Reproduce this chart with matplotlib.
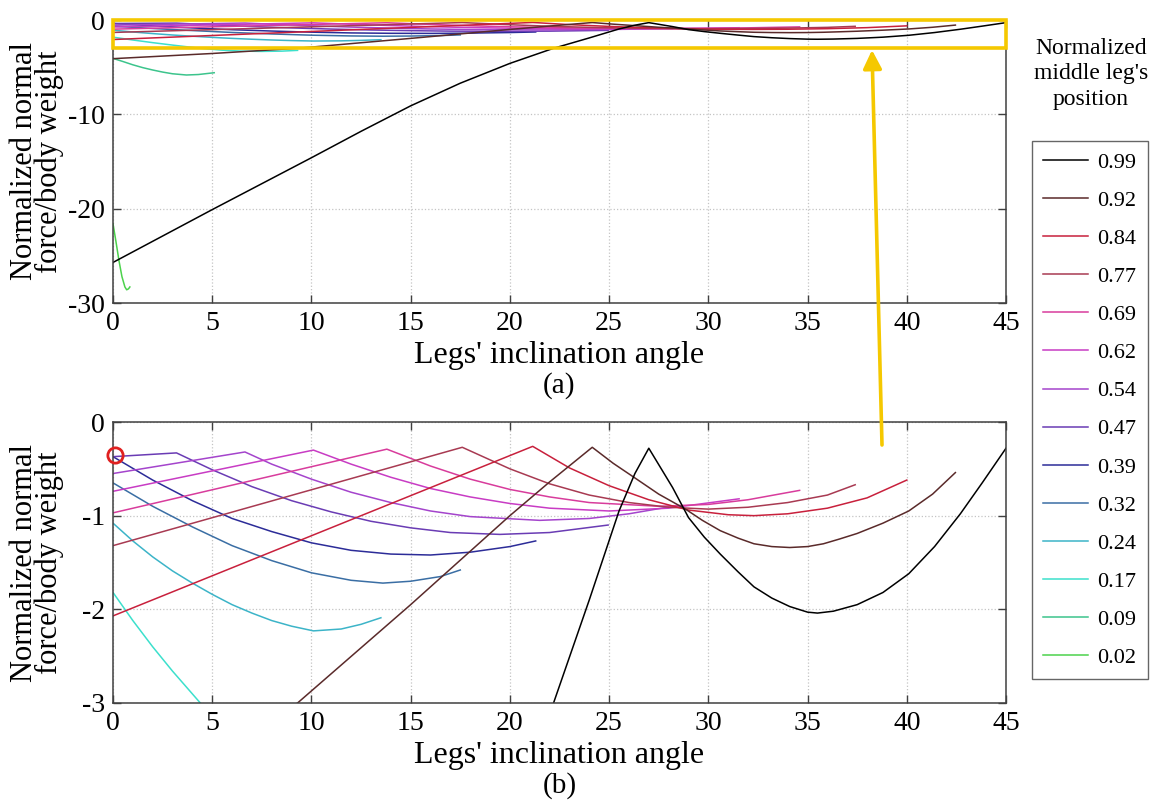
import matplotlib
matplotlib.use("Agg")
import matplotlib.pyplot as plt
from matplotlib.patches import Rectangle, FancyArrowPatch

plt.rcParams["font.family"] = ["Liberation Serif", "DejaVu Serif"]
plt.rcParams["axes.unicode_minus"] = False

# middle leg positions (legend order) and their line colours
positions = ["0.99", "0.92", "0.84", "0.77", "0.69", "0.62", "0.54",
             "0.47", "0.39", "0.32", "0.24", "0.17", "0.09", "0.02"]
colors = ["#000000", "#5a2a2a", "#c8203c", "#a83a52", "#d83c9c", "#c83cc4", "#a444cc",
          "#6a3cb4", "#2c2c98", "#3a6ea4", "#3cb4c8", "#3ce0cc", "#3cc48c", "#4cd24c"]

# normalized normal force vs legs' inclination angle
x_099 = [0, 2.5, 5, 7.5, 10, 12.5, 15, 17.5, 20, 22.2, 24.0, 25.5, 26.3, 27.0,
         27.6, 28.2, 29.0, 29.8, 30.6, 31.5, 32.3, 33.2, 34.1, 35.0, 35.5, 36.3,
         37.5, 38.8, 40.1, 41.4, 42.7, 43.8, 45.0]
y_099 = [-25.7, -22.9, -20.1, -17.35, -14.6, -11.8, -9.1, -6.7, -4.6, -3.0, -1.9, -0.95, -0.55, -0.28,
         -0.49, -0.70, -1.02, -1.23, -1.41, -1.60, -1.76, -1.88, -1.97, -2.03, -2.04, -2.02,
         -1.95, -1.82, -1.62, -1.33, -0.98, -0.65, -0.28]

x_092 = [0, 5, 9.3, 15, 20, 22.0, 24.15, 25.2, 26.25, 27.5, 28.85, 29.7, 30.6, 31.5,
         32.3, 33.2, 34.1, 35.0, 35.8, 36.6, 37.5, 38.8, 40.1, 41.3, 42.45]
y_092 = [-4.1, -3.55, -3.0, -1.95, -1.0, -0.64, -0.27, -0.44, -0.59, -0.77, -0.93, -1.05, -1.16, -1.24,
         -1.30, -1.33, -1.34, -1.33, -1.30, -1.25, -1.19, -1.08, -0.95, -0.77, -0.54]

x_084 = [0, 21.15, 23, 25, 27, 29, 31, 32.3, 34, 36, 38, 40]
y_084 = [-2.07, -0.26, -0.49, -0.68, -0.83, -0.94, -0.99, -1.0, -0.98, -0.92, -0.81, -0.62]

x_077 = [0, 17.6, 20, 22, 24, 26, 28, 30, 32, 34, 36, 37.4]
y_077 = [-1.32, -0.27, -0.50, -0.66, -0.78, -0.86, -0.91, -0.93, -0.91, -0.86, -0.78, -0.67]

x_069 = [0, 13.8, 16, 18, 20, 22, 24, 27.5, 30, 32, 34.6]
y_069 = [-0.97, -0.29, -0.47, -0.61, -0.72, -0.80, -0.86, -0.90, -0.88, -0.83, -0.73]

x_062 = [0, 10.1, 12, 14, 16, 18, 20, 22, 25, 28, 31.55]
y_062 = [-0.74, -0.30, -0.45, -0.59, -0.71, -0.80, -0.87, -0.92, -0.95, -0.92, -0.82]

x_054 = [0, 6.65, 8, 10, 12, 14, 16, 18, 21.5, 24, 26, 28.2]
y_054 = [-0.55, -0.32, -0.45, -0.61, -0.75, -0.86, -0.95, -1.01, -1.05, -1.03, -0.98, -0.90]

x_047 = [0, 3.2, 5, 7, 9, 11, 13, 15, 17, 19.5, 22, 24.95]
y_047 = [-0.37, -0.33, -0.51, -0.69, -0.84, -0.96, -1.06, -1.13, -1.18, -1.20, -1.18, -1.10]

x_039 = [0, 2, 4, 6, 8, 10, 12, 14, 16, 18, 20, 21.3]
y_039 = [-0.37, -0.62, -0.84, -1.03, -1.17, -1.29, -1.37, -1.41, -1.42, -1.39, -1.33, -1.27]

x_032 = [0, 2, 4, 6, 8, 10, 12, 13.6, 15, 16.5, 17.5]
y_032 = [-0.65, -0.90, -1.12, -1.32, -1.48, -1.61, -1.69, -1.72, -1.70, -1.65, -1.58]

x_024 = [0, 1, 2, 3, 4, 5, 6, 7, 8, 9, 10.1, 11.5, 12.5, 13.5]
y_024 = [-1.08, -1.27, -1.44, -1.59, -1.72, -1.84, -1.95, -2.04, -2.12, -2.18, -2.23, -2.21, -2.16, -2.09]

x_017 = [0, 1, 2, 3, 4.4, 5.5, 6.5, 7.5, 8.5, 9.3]
y_017 = [-1.82, -2.12, -2.40, -2.66, -3.0, -3.2, -3.3, -3.33, -3.3, -3.22]

x_009 = [0, 0.5, 1, 1.5, 2, 2.5, 3, 3.7, 4.3, 5.1]
y_009 = [-4.07, -4.4, -4.75, -5.05, -5.3, -5.52, -5.7, -5.83, -5.78, -5.59]

x_002 = [0, 0.15, 0.3, 0.45, 0.6, 0.69, 0.78, 0.85]
y_002 = [-21.6, -23.5, -25.5, -27.2, -28.3, -28.6, -28.5, -28.3]

series = [(x_099, y_099), (x_092, y_092), (x_084, y_084), (x_077, y_077),
          (x_069, y_069), (x_062, y_062), (x_054, y_054), (x_047, y_047),
          (x_039, y_039), (x_032, y_032), (x_024, y_024), (x_017, y_017),
          (x_009, y_009), (x_002, y_002)]

W, H = 1160, 801
fig = plt.figure(figsize=(W / 100, H / 100), dpi=100)
ax_a = fig.add_axes([113 / W, 1 - 303 / H, 893 / W, 283 / H])
ax_b = fig.add_axes([113 / W, 1 - 703 / H, 893 / W, 281 / H])

handles = []
for ax, ylim, yticks, tag, h in [(ax_a, (-30, 0), [-30, -20, -10, 0], "(a)", 283),
                                 (ax_b, (-3, 0), [-3, -2, -1, 0], "(b)", 281)]:
    hs = {}
    # draw the low positions first so black ends up on top
    for label, c, (x, y) in reversed(list(zip(positions, colors, series))):
        hs[label], = ax.plot(x, y, color=c, lw=1.1, label=label)
    handles = [hs[p] for p in positions]

    ax.set_xlim(0, 45)
    ax.set_ylim(*ylim)
    ax.set_xticks(range(0, 46, 5))
    ax.set_yticks(yticks)
    ax.grid(True, linestyle=":", color="#c4c4c4", lw=0.9)
    ax.tick_params(direction="in", top=True, right=True, labelsize=20, length=6,
                   width=1, color="#404040", pad=6)
    for s in ax.spines.values():
        s.set_color("#404040")
        s.set_linewidth(1.1)

    ax.set_xlabel("Legs' inclination angle", fontsize=23)
    ax.xaxis.set_label_coords(0.5, -52 / h)
    ax.xaxis.label.set_va("center")
    ax.set_ylabel("Normalized normal\nforce/body weight", fontsize=22, linespacing=0.82)
    ax.yaxis.set_label_coords(-76 / 893, 0.5)
    ax.yaxis.label.set_va("center")
    ax.text(0.5, -83 / h, tag, transform=ax.transAxes, ha="center", va="center", fontsize=21)

# yellow zoom box and arrow linking (b) to (a)
ax_a.add_patch(Rectangle((0, -2.94), 45, 2.94, fill=False, edgecolor="#f5c800",
                         lw=2.6, clip_on=False, zorder=6))
fig.add_artist(FancyArrowPatch(posA=(882 / W, 1 - 445 / H), posB=(872 / W, 1 - 50 / H),
                               transform=fig.transFigure, arrowstyle="-|>",
                               mutation_scale=28, color="#f5c800", lw=2.6,
                               shrinkA=0, shrinkB=0, zorder=6))

# red marker at the start of the 0.39 curve
ax_b.plot([0.12], [-0.35], "o", mfc="none", mec="#e02020", ms=11, mew=2,
          clip_on=False, zorder=7)

fig.legend(handles, positions, loc="upper left", bbox_to_anchor=(1032 / W, 1 - 141 / H),
           frameon=True, fancybox=False, edgecolor="#404040", fontsize=16,
           handlelength=2.0, labelspacing=0.79, borderpad=0.5, handletextpad=0.45,
           borderaxespad=0)
fig.text(1091 / W, 1 - 38 / H, "Normalized\nmiddle leg's\nposition", ha="center", va="top",
         fontsize=17, linespacing=1.28)

fig.savefig("out.png", dpi=100)
